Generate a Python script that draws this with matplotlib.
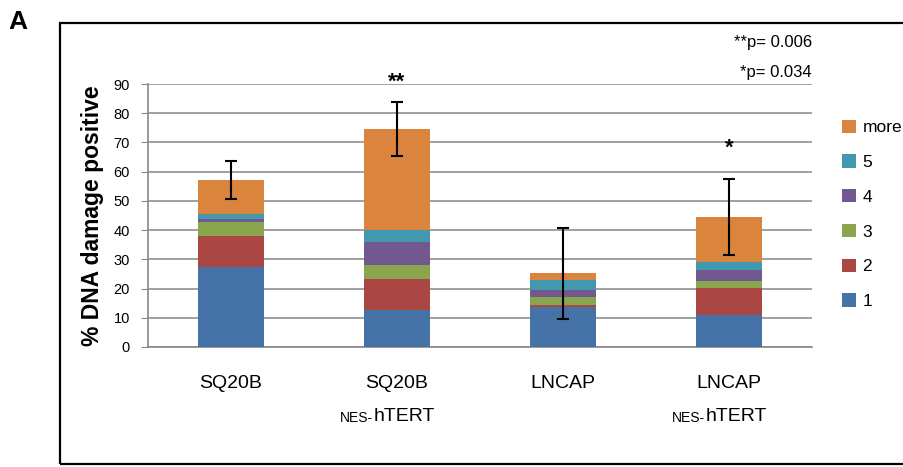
import matplotlib
matplotlib.use("Agg")
import matplotlib.pyplot as plt
from matplotlib.patches import Rectangle, Patch
import numpy as np

plt.rcParams['font.family'] = ['Liberation Sans', 'DejaVu Sans']

categories = ["SQ20B", "SQ20B", "LNCAP", "LNCAP"]
sublabels = ["", "hTERT", "", "hTERT"]
series_names = ["1", "2", "3", "4", "5", "more"]
s1 = [27.5, 12.6, 13.8, 11.1]
s2 = [10.5, 10.5, 0.7, 9.0]
s3 = [4.8, 5.0, 2.6, 2.5]
s4 = [1.0, 7.9, 2.5, 3.9]
s5 = [1.6, 4.0, 3.3, 2.6]
smore = [11.7, 34.5, 2.3, 15.4]
errors = [6.5, 9.2, 15.6, 13.0]
stars = ["", "**", "", "*"]
star_y = [0, 90.5, 0, 68]
yticks = [0, 10, 20, 30, 40, 50, 60, 70, 80, 90]

colors = ["#4572A7", "#AA4643", "#89A54E", "#71588F", "#4198AF", "#DB843D"]

fig = plt.figure(figsize=(9.04, 4.67), dpi=100)
ax = fig.add_axes([148/904, 1-347/467, (812-148)/904, (347-84)/467])

x = np.arange(len(categories))
series = [s1, s2, s3, s4, s5, smore]
bottom = np.zeros(len(categories))
for vals, col, name in zip(series, colors, series_names):
    ax.bar(x, vals, width=0.4, bottom=bottom, color=col, label=name, zorder=3)
    bottom = bottom + np.array(vals)

ax.errorbar(x, bottom, yerr=errors, fmt='none', ecolor='black', elinewidth=1.5,
            capsize=4, capthick=1.5, zorder=4)

for xi, s, sy in zip(x, stars, star_y):
    if s:
        ax.text(xi, sy, s, ha='center', va='center', fontsize=16, fontweight='bold',
                clip_on=False)

ax.set_xlim(-0.5, len(categories) - 0.5)
ax.set_ylim(0, 90)
ax.set_yticks(yticks)
ax.set_yticklabels([str(v) for v in yticks], fontsize=10.5)
ax.yaxis.grid(True, color='#A0A0A0', linewidth=1.4, zorder=0)
ax.set_axisbelow(True)
for sp in ['top', 'right']:
    ax.spines[sp].set_visible(False)
ax.spines['left'].set_color('#888888')
ax.spines['bottom'].set_color('#888888')
ax.spines['left'].set_linewidth(1.2)
ax.spines['bottom'].set_linewidth(1.2)
ax.tick_params(axis='y', direction='out', length=5, color='#888888', pad=8)
ax.set_xticks(x)
ax.set_xticklabels(categories, fontsize=14)
ax.tick_params(axis='x', length=0, pad=20)

for xi, sub in zip(x, sublabels):
    if sub:
        ax.annotate("NES-", xy=(xi, 0), xycoords=('data', 'axes fraction'),
                    xytext=(-17, -54), textcoords='offset points',
                    ha='right', va='baseline', fontsize=10)
        ax.annotate(sub, xy=(xi, 0), xycoords=('data', 'axes fraction'),
                    xytext=(-17, -53), textcoords='offset points',
                    ha='left', va='baseline', fontsize=14)

ax.set_ylabel("% DNA damage positive", fontsize=16.5, fontweight='bold', labelpad=7)

handles = [Patch(facecolor=c, label=n) for c, n in zip(colors, series_names)]
fig.legend(handles[::-1], series_names[::-1], loc='upper left',
           bbox_to_anchor=(826/904, 1-104/467), frameon=False, fontsize=12.5,
           handlelength=0.8, handleheight=0.8, labelspacing=1.1, handletextpad=0.4)

fig.text(812/904, 1-42/467, "**p= 0.006", ha='right', va='center', fontsize=12)
fig.text(812/904, 1-73/467, "*p= 0.034", ha='right', va='center', fontsize=12)

fig.text(8/904, 1-22/467, "A", ha='left', va='center', fontsize=19, fontweight='bold')
fig.patches.append(Rectangle((60/904, 3/467), 1.0, (464-23)/467, transform=fig.transFigure,
                             fill=False, edgecolor='black', linewidth=1.6, clip_on=False))

fig.savefig("out.png", dpi=100)
